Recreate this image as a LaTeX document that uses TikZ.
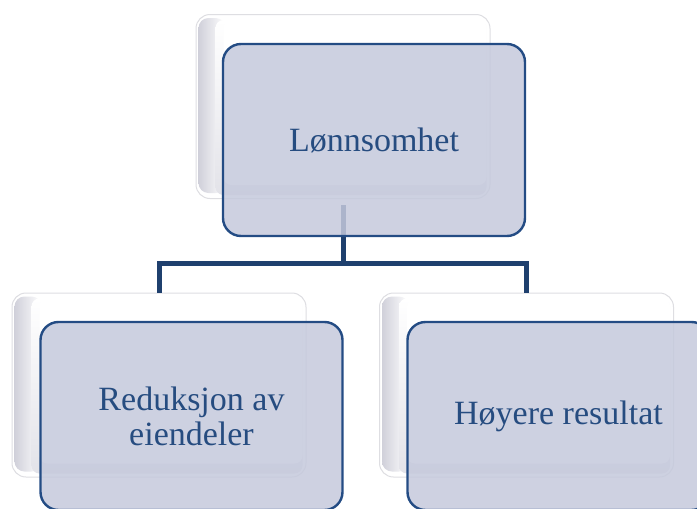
\documentclass[tikz,border=0pt]{standalone}
\usepackage{fontspec}
\setmainfont{Liberation Serif}
\definecolor{navy}{RGB}{31,64,110}
\definecolor{boxfill}{RGB}{197,201,220}
\definecolor{boxedge}{RGB}{36,76,132}
\definecolor{txt}{RGB}{38,76,128}
\definecolor{backedge}{RGB}{222,222,226}
\definecolor{backshade}{RGB}{208,208,218}
\begin{document}
\begin{tikzpicture}[x=1pt,y=-1pt,
  backbox/.style={draw=backedge, line width=1pt, rounded corners=14pt, fill=white,
     minimum width=294pt, minimum height=184pt, inner sep=0pt},
  mainbox/.style={draw=boxedge, line width=2.4pt, rounded corners=18pt, fill=boxfill, fill opacity=0.85,
     text opacity=1, minimum width=302pt, minimum height=192pt, inner sep=0pt,
     text=txt, font=\fontsize{34}{35}\selectfont, align=center},
  conn/.style={draw=navy, line width=5pt}]
\useasboundingbox (0,0) rectangle (697,509);
\clip (0,0) rectangle (697,509);
% back boxes
\node[backbox] (tb) at (343,106.5) {};
\node[backbox] (lb) at (159,385) {};
\node[backbox] (rb) at (526.5,385) {};
% left-edge shading of back boxes
\foreach \b in {tb,lb,rb}{
  \shade[left color=backshade, right color=white, rounded corners=10pt]
    ([xshift=3pt,yshift=-4pt]\b.north west) rectangle ([xshift=30pt,yshift=6pt]\b.south west);
  \shade[top color=white, bottom color=backshade!60, rounded corners=8pt]
    ([xshift=20pt,yshift=-6pt]\b.north west) rectangle ([xshift=-4pt,yshift=4pt]\b.south east);
  \fill[white, rounded corners=8pt]
    ([xshift=28pt,yshift=-6pt]\b.north west) rectangle ([xshift=-4pt,yshift=14pt]\b.south east);
}
% connectors
\coordinate (hub) at (343,263);
\draw[conn] ([yshift=-6pt]tb.south) -- (tb.south |- hub);
\draw[conn, line join=miter] (lb.north) |- (hub) -| (rb.north);
% main boxes
\node[mainbox] (tm) at (374,140) {Lønnsomhet};
\node[mainbox, minimum height=188pt] (lm) at (191.5,416) {Reduksjon av\\eiendeler};
\node[mainbox, minimum height=188pt] (rm) at (558.5,416) {Høyere resultat};
\end{tikzpicture}
\end{document}
